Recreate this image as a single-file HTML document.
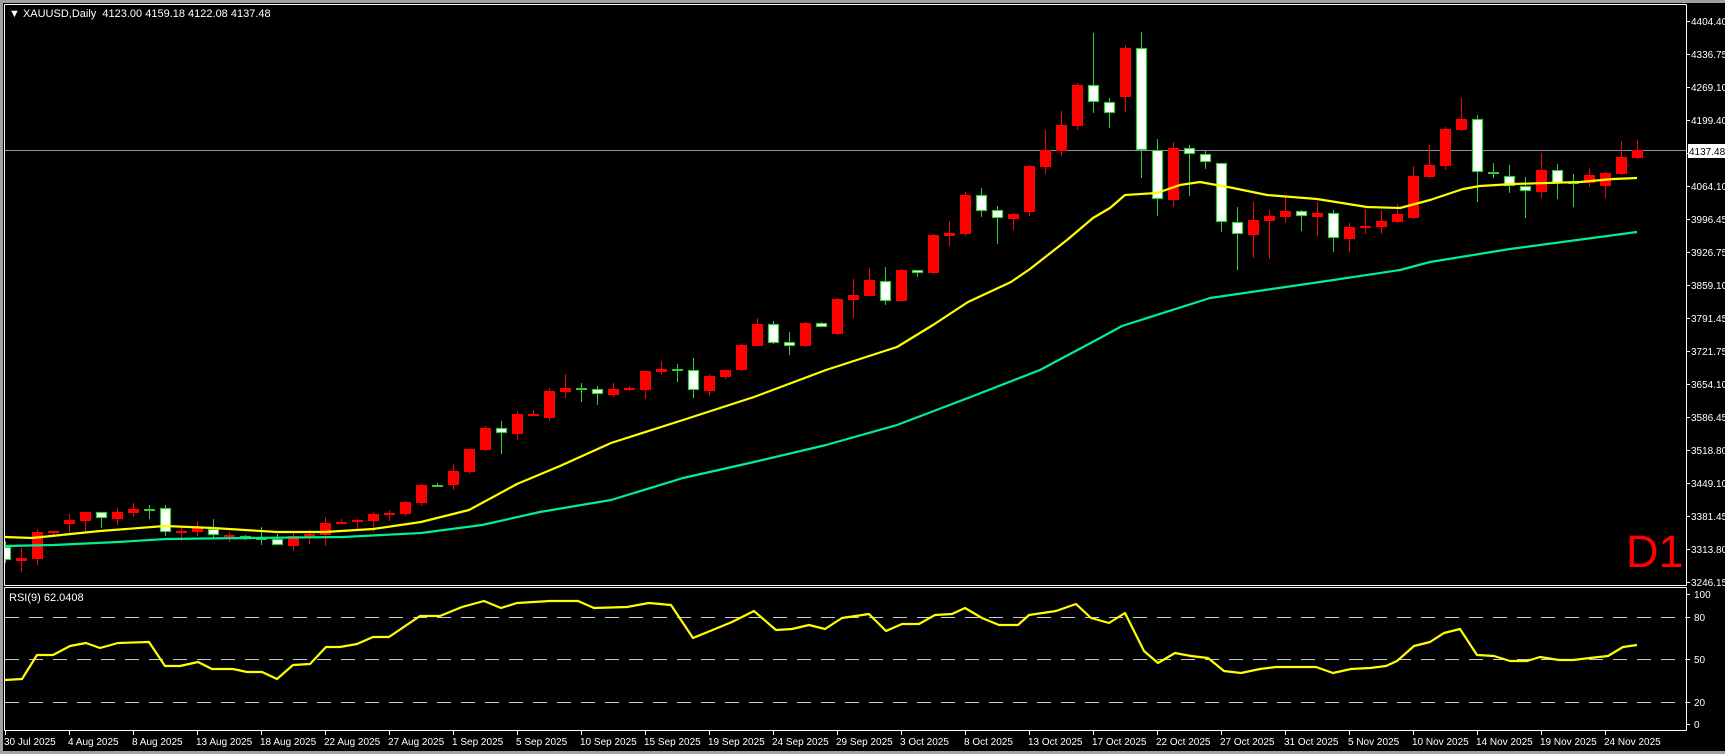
<!DOCTYPE html>
<html><head><meta charset="utf-8"><style>
html,body{margin:0;padding:0;background:#000;overflow:hidden}
svg{display:block}
text{font-family:"Liberation Sans",sans-serif;font-size:11px;fill:#fff}
text.ax{font-size:10px}
</style></head><body>
<svg id="s" width="1725" height="754" xmlns="http://www.w3.org/2000/svg">
<rect x="0" y="0" width="1725" height="754" fill="#000"/>
<rect x="0" y="0" width="1725" height="3" fill="#a0a0a0"/>
<rect x="0" y="0" width="3" height="754" fill="#a0a0a0"/>
<rect x="0" y="751" width="1725" height="3" fill="#a0a0a0"/>
<line x1="4.5" y1="4.5" x2="1686.5" y2="4.5" stroke="#fff"/>
<line x1="4.5" y1="4.5" x2="4.5" y2="585.5" stroke="#fff"/>
<line x1="1686.5" y1="4.5" x2="1686.5" y2="585.5" stroke="#fff"/>
<line x1="4.5" y1="585.5" x2="1686.5" y2="585.5" stroke="#fff"/>
<line x1="4.5" y1="587.5" x2="1686.5" y2="587.5" stroke="#fff"/>
<line x1="4.5" y1="587.5" x2="4.5" y2="730.5" stroke="#fff"/>
<line x1="1686.5" y1="587.5" x2="1686.5" y2="730.5" stroke="#fff"/>
<line x1="4.5" y1="730.5" x2="1686.5" y2="730.5" stroke="#fff"/>
<defs><clipPath id="cm"><rect x="5" y="5" width="1681" height="580"/></clipPath></defs>
<g id="main" clip-path="url(#cm)"></g>
<g id="rsi"></g>
<g id="ax"></g>
<text x="9" y="17">&#9660; XAUUSD,Daily&#160; 4123.00 4159.18 4122.08 4137.48</text>
<text x="9" y="601">RSI(9) 62.0408</text>
<text x="1626" y="567" style="font-size:45px;fill:#ff0000">D1</text>
</svg>
<script>
var NS="http://www.w3.org/2000/svg";
function el(p,t,a,txt){var e=document.createElementNS(NS,t);for(var k in a)e.setAttribute(k,a[k]);if(txt!=null)e.textContent=txt;p.appendChild(e);return e;}
var M=document.getElementById('main'),R=document.getElementById('rsi'),A=document.getElementById('ax');
var C=[[547,560,541,563,'w'],[558,561,548,572,'r'],[532,559,529,565,'r'],[531,533,531,536,'r'],[520,524,514,533,'r'],[512,521,512,532,'r'],[512,518,512,528,'w'],[512,519,508,525,'r'],[509,513,503,517,'r'],[510,510,505,519,'c'],
[508,532,505,536,'w'],[531,533,527,541,'r'],[528,532,521,536,'r'],[529,535,519,538,'w'],[535,536,532,542,'r'],[536,538,535,540,'w'],[539,539,527,545,'c'],[539,545,534,545,'w'],[536,546,533,551,'r'],[534,537,530,544,'r'],
[523,535,517,546,'r'],[522,524,519,524,'r'],[520,522,519,529,'r'],[514,521,512,532,'r'],[513,515,510,521,'r'],[502,514,501,516,'r'],[485,503,484,506,'r'],[486,486,483,487,'c'],[471,485,464,490,'r'],[449,472,449,474,'r'],
[428,450,426,451,'r'],[428,433,421,454,'w'],[414,434,411,440,'r'],[414,415,410,416,'r'],[391,418,388,421,'r'],[388,392,374,398,'r'],[389,389,383,402,'c'],[389,394,386,405,'w'],[389,395,383,397,'r'],[388,390,386,391,'r'],
[371,390,371,399,'r'],[369,372,361,375,'r'],[370,370,364,382,'c'],[370,390,358,398,'w'],[376,391,374,396,'r'],[370,377,370,379,'r'],[345,370,344,371,'r'],[324,346,318,346,'r'],[324,343,321,344,'w'],[342,346,332,355,'w'],
[323,346,322,347,'r'],[323,327,322,327,'w'],[299,334,298,335,'r'],[295,300,279,318,'r'],[280,296,268,296,'r'],[281,301,267,305,'w'],[270,301,269,301,'r'],[270,273,270,277,'w'],[235,273,234,274,'r'],[233,236,221,246,'r'],
[195,234,192,236,'r'],[195,211,188,217,'w'],[210,218,206,244,'w'],[214,219,213,230,'r'],[166,212,165,216,'r'],[150,167,130,174,'r'],[125,151,111,156,'r'],[85,126,83,130,'r'],[85,102,33,113,'w'],[102,113,98,128,'w'],
[48,97,45,112,'r'],[48,150,32,178,'w'],[150,199,139,216,'w'],[148,200,142,207,'r'],[148,154,145,196,'w'],[154,162,151,169,'w'],[163,222,163,232,'w'],[222,234,207,270,'w'],[220,235,202,258,'r'],[216,221,210,259,'r'],
[211,217,197,223,'r'],[211,216,210,231,'w'],[213,217,202,236,'r'],[213,238,210,252,'w'],[227,239,223,252,'r'],[226,228,209,234,'r'],[221,227,210,234,'r'],[214,222,204,223,'r'],[176,218,166,219,'r'],[165,177,145,178,'r'],
[129,166,127,170,'r'],[119,130,98,131,'r'],[119,172,115,202,'w'],[173,173,163,178,'c'],[176,186,165,193,'w'],[186,191,177,218,'w'],[170,192,153,198,'r'],[170,183,164,199,'w'],[183,183,174,207,'c'],[175,183,168,187,'r'],
[173,186,172,198,'r'],[157,174,141,175,'r'],[150,158,140,159,'r']];
var G="#32cd32",RD="#ff0000";
el(M,'line',{x1:5,y1:150.5,x2:1686,y2:150.5,stroke:'#8c94a0','stroke-width':1});
function poly(p,pts,col,w){el(p,'polyline',{points:pts.map(function(a){return a[0]+','+a[1]}).join(' '),fill:'none',stroke:col,'stroke-width':w,'stroke-linejoin':'round'});}
var GM=[[5,546],[54,545],[118,542],[166,539],[246,538],[343,537],[421,533],[482,525],[540,512],[611,500],[683,478],[754,462],[826,445],[897,425],[968,398],[1040,370],[1100,338],[1122,326],[1210,298],[1320,282],[1400,270],[1430,262],[1510,249],[1637,232]];
var YM=[[5,537],[32,538],[100,531],[165,526],[213,528],[277,532],[325,532],[373,529],[421,522],[469,510],[517,484],[560,466],[611,443],[683,420],[754,397],[826,370],[897,347],[933,325],[968,302],[1011,282],[1030,269],[1067,240],[1093,218],[1110,208],[1125,195],[1157,193],[1180,185],[1200,182],[1233,188],[1267,195],[1317,199],[1367,207],[1400,208],[1430,200],[1463,189],[1480,186],[1513,184],[1580,182],[1613,179],[1637,178]];
C.forEach(function(c,i){
  var x=5+16*i,col=(c[4]=='r')?RD:G;
  el(M,'rect',{x:x,y:c[2],width:1,height:Math.max(1,c[3]-c[2]),fill:col});
  if(c[4]=='c'){el(M,'rect',{x:x-5,y:c[0]-1,width:11,height:2,fill:G});}
  else if(c[4]=='r'){el(M,'rect',{x:x-5,y:c[0],width:11,height:Math.max(2,c[1]-c[0]),fill:RD});}
  else{el(M,'rect',{x:x-4.5,y:c[0]+0.5,width:10,height:Math.max(2,c[1]-c[0]-1),fill:'#fff',stroke:G,'stroke-width':1.2});}
});
poly(M,GM,'#00f090',2.2);
poly(M,YM,'#ffff00',2.2);
[617,659,702].forEach(function(y){el(R,'line',{x1:5,y1:y+0.5,x2:1686,y2:y+0.5,stroke:'#c8c8c8','stroke-width':1,'stroke-dasharray':'14,10'});});
var RP=[[5,680],[22,679],[37,655],[53,655],[70,646],[86,643],[100,648],[118,643],[149,642],[165,666],[180,666],[198,662],[212,669],[233,669],[247,672],[262,672],[277,679],[293,665],[310,664],[326,647],[340,647],[357,644],[373,637],[389,637],[420,616]];
var RQ=[[385,560],[400,560],[420,552],[440,546],[455,553],[470,548],[500,546],[525,546],[540,553],[570,552],[590,548],[610,550],[630,580],[650,572],[665,565],[685,555],[705,573],[720,572],[735,568],[750,572],[765,562],[790,558],[805,574],[820,567],[835,567],[850,559],[865,558],[877,553],[893,562],[908,568],[925,568],[935,559],[960,555],[978,549],[992,562],[1008,566],[1023,557],[1040,592],[1053,603],[1068,594],[1083,596],[1098,598],[1113,610],[1128,612],[1145,608],[1160,606],[1180,606],[1196,606],[1212,612],[1228,608],[1245,607],[1260,605],[1270,601],[1285,587],[1300,584],[1313,575],[1327,572],[1343,595],[1358,596],[1373,601],[1388,601],[1400,597],[1417,600],[1430,600],[1445,598],[1462,596],[1475,588],[1488,586]];
RQ.forEach(function(p){RP.push([Math.round(p[0]*1.1),Math.round(p[1]*1.1)]);});
poly(R,RP,'#ffff00',2.2);
var PL=['4404.40','4336.75','4269.10','4199.40','','4064.10','3996.45','3926.75','3859.10','3791.45','3721.75','3654.10','3586.45','3518.80','3449.10','3381.45','3313.80','3246.15'];
PL.forEach(function(t,i){var y=21+33*i;el(A,'line',{x1:1686,y1:y+0.5,x2:1690,y2:y+0.5,stroke:'#fff'});if(t)el(A,'text',{x:1691,y:y+4,'class':'ax'},t);});
el(A,'rect',{x:1688,y:144,width:37,height:14,fill:'#fff'});
el(A,'text',{x:1689,y:155,'class':'ax',style:'fill:#000'},'4137.48');
[[100,594],[80,617],[50,659],[20,702],[0,724]].forEach(function(a){el(A,'line',{x1:1686,y1:a[1]+0.5,x2:1690,y2:a[1]+0.5,stroke:'#fff'});el(A,'text',{x:1694,y:a[1]+4,'class':'ax'},String(a[0]));});
var D=['30 Jul 2025','4 Aug 2025','8 Aug 2025','13 Aug 2025','18 Aug 2025','22 Aug 2025','27 Aug 2025','1 Sep 2025','5 Sep 2025','10 Sep 2025','15 Sep 2025','19 Sep 2025','24 Sep 2025','29 Sep 2025','3 Oct 2025','8 Oct 2025','13 Oct 2025','17 Oct 2025','22 Oct 2025','27 Oct 2025','31 Oct 2025','5 Nov 2025','10 Nov 2025','14 Nov 2025','19 Nov 2025','24 Nov 2025'];
D.forEach(function(t,i){var x=5+64*i;el(A,'line',{x1:x+0.5,y1:730,x2:x+0.5,y2:735,stroke:'#fff'});el(A,'text',{x:x-1,y:745,'class':'ax'},t);});
</script>
</body></html>
